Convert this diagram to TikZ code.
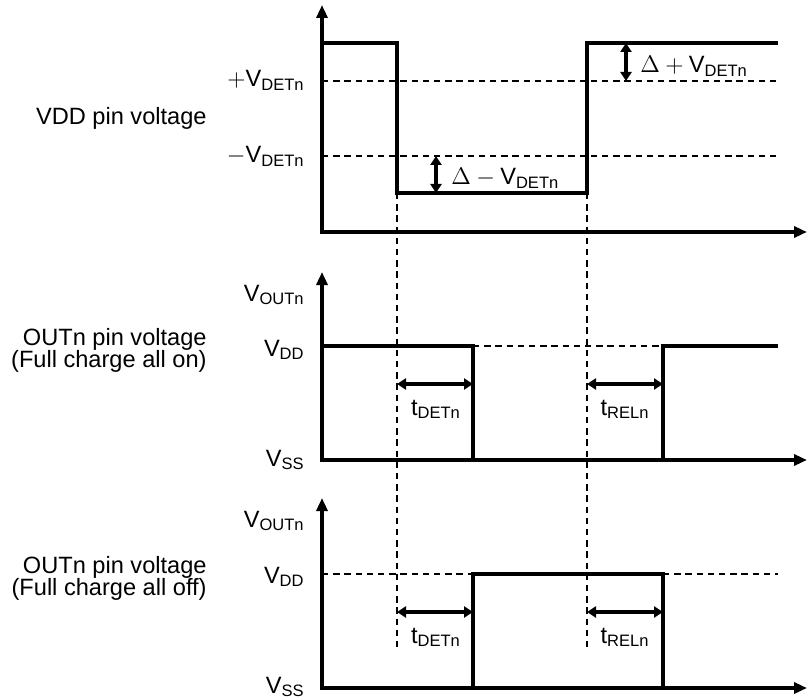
\documentclass[tikz,border=0pt]{standalone}
\usepackage{fontspec}
\setmainfont{Liberation Sans}
\usetikzlibrary{arrows.meta}
\tikzset{axis/.style={line width=1.7pt, line join=miter,
    {Triangle[length=6.5pt,width=5.5pt]}-{Triangle[length=6.5pt,width=5.5pt]}}}
\tikzset{wave/.style={line width=1.7pt, line join=miter}}
\tikzset{level/.style={line width=1.15pt, dash pattern=on 3.2pt off 2.4pt}}
\tikzset{span/.style={line width=1.6pt,
    {Triangle[length=4.5pt,width=5.5pt]}-{Triangle[length=4.5pt,width=5.5pt]}}}
\tikzset{lbl/.style={inner sep=0pt, font=\fontsize{11.8}{11}\selectfont}}

\begin{document}
\begin{tikzpicture}[x=0.5pt,y=-0.5pt]
  \useasboundingbox (0,0) rectangle (808,700);
  % axes of the three panels
  \foreach \p/\o/\t in {
    top/232/5,
    on/460/272,
    off/688/498%
  } {
    \coordinate (\p0) at (322, \o);
    \coordinate (\p up) at (322, \t);
    \coordinate (\p end) at (807, \o);
    \draw[axis] (\p up) -- (\p0) -- (\p end);
  }
  % VDD pin voltage
  \draw[wave] (322,43) -| (397,193) -| (587,43) -- (778,43);
  \foreach \y in {81, 156} {
    \draw[level] (322, \y) -- (778, \y);
  }
  \coordinate (dp1) at (626,43);
  \coordinate (dp2) at (626,81);
  \draw[span] (dp1) -- (dp2);
  \node[lbl, anchor=base west] (dplus) at (640,73) {$\Delta+{}$V\textsubscript{DETn}};
  \coordinate (dm1) at (436,156);
  \coordinate (dm2) at (436,193);
  \draw[span] (dm1) -- (dm2);
  \node[lbl, anchor=base west] (dminus) at (451,185) {$\Delta-{}$V\textsubscript{DETn}};
  \node[lbl, anchor=base east] (vdetp) at (305,87) {$+$V\textsubscript{DETn}};
  \node[lbl, anchor=base east] (vdetm) at (305,163) {$-$V\textsubscript{DETn}};
  \node[lbl, anchor=base east] (vddpin) at (207,125) {VDD pin voltage};
  % edges carried down
  \foreach \x in {397, 587} {
    \draw[level] (\x, 193) -- (\x, 650);
  }
  % OUTn, all on
  \draw[wave] (322,346) -| (473,460) -| (663,346) -- (778,346);
  \draw[level] (473,346) -- (663,346);
  % OUTn, all off
  \draw[wave] (322,688) -| (473,574) -| (663,688) -- (778,688);
  \draw[level] (322,574) -- (473,574);
  \draw[level] (663,574) -- (778,574);
  % delay times
  \foreach \r/\y/\b in {
    on/384/415,
    off/612/643%
  } {
    \coordinate (\r det1) at (397, \y);
    \coordinate (\r det2) at (473, \y);
    \coordinate (\r rel1) at (587, \y);
    \coordinate (\r rel2) at (663, \y);
    \draw[span] (\r det1) -- (\r det2);
    \draw[span] (\r rel1) -- (\r rel2);
    \node[lbl, anchor=base] (\r tdet) at (436, \b) {t\textsubscript{DETn}};
    \node[lbl, anchor=base] (\r trel) at (625, \b) {t\textsubscript{RELn}};
  }
  \foreach \r/\a/\d/\s/\m/\c in {
    on/301/356/466/350/on,
    off/527/583/693/578/off%
  } {
    \node[lbl, anchor=base east] (\r vout) at (305, \a) {V\textsubscript{OUTn}};
    \node[lbl, anchor=base east] (\r vdd) at (305, \d) {V\textsubscript{DD}};
    \node[lbl, anchor=base east] (\r vss) at (305, \s) {V\textsubscript{SS}};
    \node[lbl, anchor=east, align=right] (\r pin) at (207, \m)
      {OUTn pin voltage\\(Full charge all \c)};
  }
\end{tikzpicture}
\end{document}
